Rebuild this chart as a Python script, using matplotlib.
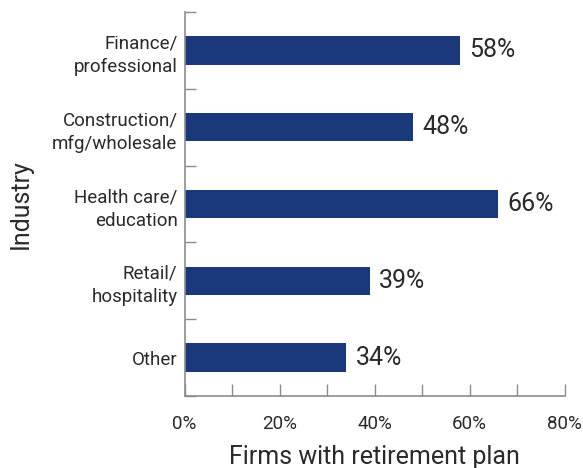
import matplotlib
matplotlib.use("Agg")
import matplotlib.pyplot as plt
from matplotlib.ticker import MultipleLocator, FuncFormatter

industries = ["Finance/\nprofessional", "Construction/\nmfg/wholesale", "Health care/\neducation",
              "Retail/\nhospitality", "Other"]
pct_with_plan = [58, 48, 66, 39, 34]
x_ticks = [0, 20, 40, 60, 80]

BAR_COLOR = "#1b397a"
AXIS_COLOR = "#8c8c8c"
TEXT_COLOR = "#2a2a2a"

plt.rcParams["font.family"] = ["Roboto", "DejaVu Sans"]

fig = plt.figure(figsize=(5.83, 4.68), dpi=100)
ax = fig.add_axes([184.5 / 583, 1 - 396 / 468, 380 / 583, 384 / 468])

pos = list(range(len(industries)))
ax.barh(pos, pct_with_plan, height=0.37, color=BAR_COLOR)
for y, v in zip(pos, pct_with_plan):
    ax.text(v + 2, y, f"{v}%", va="center", ha="left", fontsize=18, color=TEXT_COLOR)

ax.set_xlim(0, 80)
ax.set_ylim(len(industries) - 0.5, -0.5)

ax.set_xticks(x_ticks)
ax.xaxis.set_major_formatter(FuncFormatter(lambda v, _: f"{v:.0f}%"))
ax.xaxis.set_minor_locator(MultipleLocator(10))
ax.tick_params(axis="x", which="both", direction="in", length=9, width=1, color=AXIS_COLOR,
               labelsize=13.5, labelcolor=TEXT_COLOR, pad=14)

# category labels sit between the boundary ticks
ax.set_yticks([p - 0.5 for p in pos] + [len(pos) - 0.5])
ax.set_yticklabels([])
ax.set_yticks(pos, minor=True)
ax.set_yticklabels(industries, minor=True)
ax.tick_params(axis="y", which="major", direction="in", length=8, width=1, color=AXIS_COLOR)
ax.tick_params(axis="y", which="minor", length=0, labelsize=13.5, labelcolor=TEXT_COLOR, pad=5)
for lbl in ax.get_yticklabels(minor=True):
    lbl.set_horizontalalignment("right")
    lbl.set_linespacing(1.4)

for side in ["top", "right"]:
    ax.spines[side].set_visible(False)
for side in ["left", "bottom"]:
    ax.spines[side].set_color(AXIS_COLOR)
    ax.spines[side].set_linewidth(1.2)

ax.set_xlabel("Firms with retirement plan", fontsize=18, color=TEXT_COLOR, labelpad=8)
ax.set_ylabel("Industry", fontsize=18, color=TEXT_COLOR)
ax.yaxis.set_label_coords(-0.40, 0.5)

fig.savefig("out.png", dpi=100)
